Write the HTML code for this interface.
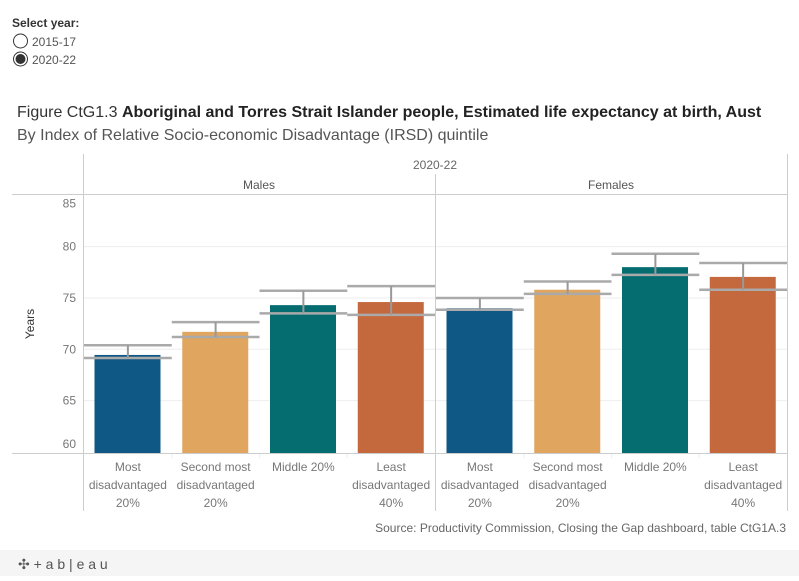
<!DOCTYPE html>
<html><head><meta charset="utf-8">
<style>
body{margin:0;background:#fff;width:799px;height:576px;overflow:hidden;font-family:"Liberation Sans",sans-serif;}
#wrap{position:relative;width:799px;height:576px;}
</style></head>
<body><div id="wrap">
<svg id="chart" width="799" height="576" xmlns="http://www.w3.org/2000/svg">
<text x="12" y="27" font-size="12" font-weight="bold" fill="#333">Select year:</text>
<g><circle cx="20.5" cy="41" r="7" fill="#fff" stroke="#333" stroke-width="1"/><text x="32" y="46" font-size="12" fill="#555">2015-17</text></g>
<g><circle cx="20.5" cy="59" r="7" fill="#fff" stroke="#333" stroke-width="1"/><circle cx="20.5" cy="59" r="5" fill="#333"/><text x="32" y="64" font-size="12" fill="#555">2020-22</text></g>
<text x="17" y="117" font-size="16" fill="#333">Figure CtG1.3 <tspan font-weight="bold" fill="#222">Aboriginal and Torres Strait Islander people, Estimated life expectancy at birth, Aust</tspan></text>
<text x="17" y="140" font-size="16" fill="#555">By Index of Relative Socio-economic Disadvantage (IRSD) quintile</text>
<g id="grid"></g>
<g id="bars"></g>
<g id="frame" stroke="#ccc" stroke-width="1" fill="none">
<line x1="83.5" y1="154" x2="83.5" y2="511"/>
<line x1="435.5" y1="174" x2="435.5" y2="511"/>
<line x1="787.5" y1="154" x2="787.5" y2="511"/>
<line x1="12" y1="194.5" x2="787" y2="194.5"/>
<line x1="12" y1="453.5" x2="787" y2="453.5"/>
</g>
<text x="435" y="169" font-size="12" fill="#666" text-anchor="middle">2020-22</text>
<text x="259" y="189" font-size="12" fill="#555" text-anchor="middle">Males</text>
<text x="611" y="189" font-size="12" fill="#555" text-anchor="middle">Females</text>
<text x="34" y="324" font-size="12" fill="#333" text-anchor="middle" transform="rotate(-90 34 324)">Years</text>
<g id="yticks"></g>
<g id="xlabels"></g>
<text x="786" y="532" font-size="12" fill="#666" text-anchor="end">Source: Productivity Commission, Closing the Gap dashboard, table CtG1A.3</text>
<rect x="0" y="550" width="799" height="26" fill="#f5f5f5"/>
<text x="18" y="569" font-size="14" fill="#555">✣ + a b | e a u</text>
</svg>
<script>
const categories=["Most disadvantaged 20%","Second most disadvantaged 20%","Middle 20%","Least disadvantaged 40%"];
const catLines=[["Most","disadvantaged","20%"],["Second most","disadvantaged","20%"],["Middle 20%"],["Least","disadvantaged","40%"]];
const panels=["Males","Females"];
const maleValues=[69.45,71.7,74.3,74.6];
const maleUpper=[70.4,72.65,75.7,76.15];
const maleLower=[69.15,71.2,73.5,73.35];
const femaleValues=[74.0,75.8,78.0,77.05];
const femaleUpper=[75.0,76.6,79.3,78.4];
const femaleLower=[73.85,75.4,77.25,75.8];
const yTicks=[60,65,70,75,80,85];
const colors=["#0f5784","#e0a55f","#056d70","#c4683d"];
const NS="http://www.w3.org/2000/svg";
function y(v){return 349.3-(v-70)*10.27;}
const paneX=[84,436],paneW=351,band=paneW/4;
function x(p,i){return paneX[p]+band*i;}
function mk(tag,attrs,parent){const e=document.createElementNS(NS,tag);for(const k in attrs)e.setAttribute(k,attrs[k]);parent.appendChild(e);return e;}
const grid=document.getElementById('grid'),bars=document.getElementById('bars'),yt=document.getElementById('yticks'),xl=document.getElementById('xlabels');
yTicks.forEach(t=>{
  if(t>60&&t<85){const l=mk('line',{x1:84,x2:787,y1:y(t),y2:y(t),stroke:'#eee'},grid);
  
  }
  let ty=y(t)+4; if(t===85)ty=y(t)+12; if(t===60)ty=y(t)-4;
  const tx=mk('text',{x:76,y:ty,'font-size':12,fill:'#777','text-anchor':'end'},yt);tx.textContent=t;
  
  
});
const vals=[maleValues,femaleValues],ups=[maleUpper,femaleUpper],los=[maleLower,femaleLower];
panels.forEach((pn,p)=>{
  categories.forEach((c,i)=>{
    const bx=x(p,i)+10.5,bw=66,v=vals[p][i];
    const r=mk('rect',{x:bx,y:y(v),width:bw,height:453-y(v),fill:colors[i]},bars);
    
    
    const cx=x(p,i)+band/2;
    const g=mk('g',{stroke:'#aaa','stroke-width':2.5},bars);
    
    
    mk('line',{x1:x(p,i),x2:x(p,i)+band,y1:y(ups[p][i]),y2:y(ups[p][i])},g);
    mk('line',{x1:x(p,i),x2:x(p,i)+band,y1:y(los[p][i]),y2:y(los[p][i])},g);
    mk('line',{x1:cx,x2:cx,y1:y(ups[p][i]),y2:y(los[p][i]),stroke:'#999','stroke-width':2},g);
    if(i>0){const s=mk('line',{x1:x(p,i),x2:x(p,i),y1:454,y2:458,stroke:'#eee'},grid);
    
    }
    const t=mk('text',{'font-size':12,fill:'#777','text-anchor':'middle'},xl);
    
    
    catLines[i].forEach((ln,k)=>{const ts=mk('tspan',{x:cx,y:471+k*18},t);ts.textContent=ln;});
  });
});
</script>
</div></body></html>
